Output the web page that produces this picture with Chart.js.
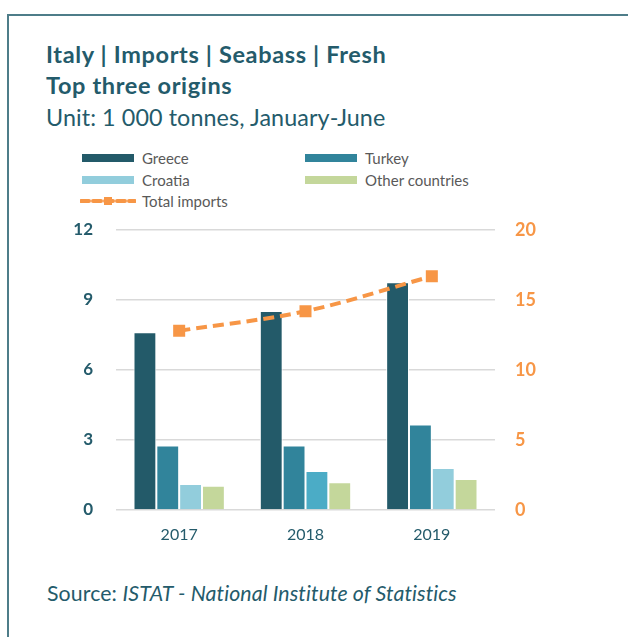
<!DOCTYPE html>
<html>
<head>
<meta charset="utf-8">
<script src="https://cdn.jsdelivr.net/npm/chart.js@4.4.0/dist/chart.umd.min.js"></script>
<style>
  body { margin: 0; background: #fff; font-family: Lato, "Open Sans", sans-serif; }
  #frame { position: absolute; left: 7px; top: 14px; width: 700px; height: 700px;
           border-left: 2px solid #4e7d89; border-top: 2px solid #4e7d89; }
  .t { position: absolute; left: 46px; color: #245b6b; white-space: nowrap; line-height: 1; }
  .b { font-weight: bold; font-size: 23.5px; letter-spacing: 0.65px; }
  .r { font-size: 23.3px; letter-spacing: 0.1px; }
  #legend { position: absolute; left: 0; top: 0; font-size: 15px; color: #595959; }
  .item { position: absolute; display: flex; align-items: center; height: 16px; white-space: nowrap; }
  .sw { width: 52px; height: 8px; margin-right: 8px; }
  #wrap { position: absolute; left: 60px; top: 215px; width: 500px; height: 340px; }
  #src { position: absolute; left: 47px; top: 583px; font-size: 21.3px; letter-spacing: 0.1px; color: #245b6b; line-height: 1; white-space: nowrap; }
</style>
</head>
<body>
<div id="frame"></div>
<div class="t b" style="top:42.5px">Italy | Imports | Seabass | Fresh</div>
<div class="t b" style="top:73.5px">Top three origins</div>
<div class="t r" style="top:105.5px">Unit: 1 000 tonnes, January-June</div>
<div id="legend"></div>
<div id="wrap"><canvas id="chart"></canvas></div>
<div id="src">Source: <i>ISTAT - National Institute of Statistics</i></div>
<script>
// data
const years = ["2017", "2018", "2019"];
const greece = [7.62, 8.53, 9.76];
const turkey = [2.76, 2.76, 3.66];
const croatia = [1.11, 1.67, 1.80];
const other = [1.04, 1.19, 1.33];
const totalImports = [12.8, 14.2, 16.7];

const leftTicks = [0, 3, 6, 9, 12];
const rightTicks = [0, 5, 10, 15, 20];

const teal = "#245b6b";
const orange = "#f79646";

const barSets = [
  { label: "Greece", data: greece, color: "#235a69" },
  { label: "Turkey", data: turkey, color: "#31849b" },
  { label: "Croatia", data: croatia, color: "#92cddc", perBar: ["#92cddc", "#4bacc6", "#92cddc"] },
  { label: "Other countries", data: other, color: "#c4d79b" }
];

const datasets = barSets.map(s => ({
  type: "bar",
  label: s.label,
  data: s.data,
  backgroundColor: s.perBar || s.color,
  borderColor: "#ffffff",
  borderWidth: 1,
  barPercentage: 1,
  categoryPercentage: 0.723,
  yAxisID: "y",
  order: 1
}));

datasets.push({
  type: "line",
  label: "Total imports",
  data: totalImports,
  borderColor: orange,
  backgroundColor: orange,
  borderWidth: 4,
  borderDash: [11, 6],
  tension: 0.35,
  pointStyle: "rect",
  pointRadius: 8.5,
  pointBorderWidth: 0,
  yAxisID: "y2",
  order: 0
});

// legend in html, 2 columns like the original
const legend = document.getElementById("legend");
const spots = [[82, 150], [305, 150], [82, 172], [305, 172]];
barSets.forEach((s, i) => {
  const d = document.createElement("div");
  d.className = "item";
  d.style.left = spots[i][0] + "px";
  d.style.top = spots[i][1] + "px";
  d.innerHTML = '<span class="sw" style="background:' + s.color + '"></span>' + s.label;
  legend.appendChild(d);
});
const ln = document.createElement("div");
ln.className = "item";
ln.style.left = "80px";
ln.style.top = "193px";
ln.innerHTML = '<svg width="56" height="10" style="margin-right:6px">' +
  '<line x1="1" y1="5" x2="55" y2="5" stroke="' + orange + '" stroke-width="4" stroke-dasharray="8,4" stroke-linecap="round"/>' +
  '<rect x="24" y="1" width="8" height="8" fill="' + orange + '"/></svg>Total imports';
legend.appendChild(ln);

new Chart(document.getElementById("chart"), {
  data: { labels: years, datasets: datasets },
  options: {
    responsive: true,
    maintainAspectRatio: false,
    animation: false,
    layout: { padding: { top: 15, left: 0, right: 0, bottom: 0 } },
    plugins: { legend: { display: false }, tooltip: { enabled: false } },
    scales: {
      x: {
        grid: { display: false, drawTicks: false },
        border: { display: false },
        ticks: { color: teal, font: { family: "Lato", size: 16 }, padding: 15 },
        afterFit: s => { s.height = 45; s.paddingLeft = 0; s.paddingRight = 0; }
      },
      y: {
        position: "left",
        min: 0, max: 12,
        afterBuildTicks: s => { s.ticks = leftTicks.map(v => ({ value: v })); },
        grid: { color: "#d9d9d9", lineWidth: 1.5, drawTicks: false },
        border: { display: false },
        ticks: { color: teal, font: { family: "Lato", size: 17, weight: "bold" }, padding: 23 },
        afterFit: s => { s.width = 56; s.paddingTop = 0; s.paddingBottom = 0; }
      },
      y2: {
        position: "right",
        min: 0, max: 20,
        afterBuildTicks: s => { s.ticks = rightTicks.map(v => ({ value: v })); },
        grid: { display: false, drawTicks: false },
        border: { display: false },
        ticks: { color: orange, font: { family: "Lato", size: 18, weight: "bold" }, padding: 20 },
        afterFit: s => { s.width = 65; s.paddingTop = 0; s.paddingBottom = 0; }
      }
    }
  }
});
</script>
</body>
</html>
